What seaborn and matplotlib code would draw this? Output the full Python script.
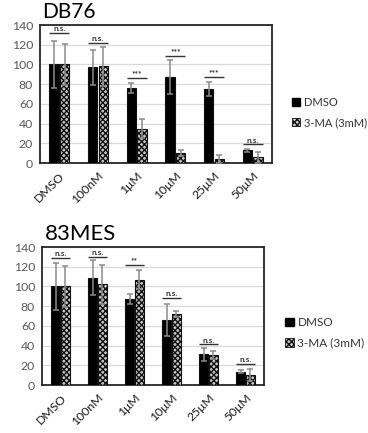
import matplotlib
matplotlib.use("Agg")
import matplotlib.pyplot as plt
import seaborn as sns
import pandas as pd
import numpy as np

sns.set_style("white")
plt.rcParams["font.family"] = ["Lato", "DejaVu Sans"]
plt.rcParams["hatch.linewidth"] = 1.0

doses = ["DMSO", "100nM", "1μM", "10μM", "25μM", "50μM"]
conditions = ["DMSO", "3-MA (3mM)"]

# DB76 viability (% of control)
db76_dmso = [100, 97, 76, 87, 75, 13]
db76_dmso_err = [24, 18, 5, 17, 7, 1.5]
db76_3ma = [100, 98, 35, 10, 4, 6]
db76_3ma_err = [21, 20, 10, 3, 4, 5.5]
db76_sig = ["n.s.", "n.s.", "***", "***", "***", "n.s."]
db76_sig_y = [132, 122, 86.5, 108.5, 87, 19]

# 83MES viability (% of control)
mes_dmso = [100, 109, 87, 66, 31, 13.5]
mes_dmso_err = [24, 18, 5, 16, 7, 1.5]
mes_3ma = [100, 102, 107, 72, 30, 10.5]
mes_3ma_err = [21, 20, 10, 3, 4, 6]
mes_sig = ["n.s.", "n.s.", "**", "n.s.", "n.s.", "n.s."]
mes_sig_y = [129, 130, 121.5, 88.5, 41.5, 21.5]

W, H = 368, 433
fig = plt.figure(figsize=(W / 100, H / 100), dpi=100)

HATCH_FACE = "#c8c8c8"
HATCH = "xxxxxx"


def panel(rect, title, title_xy, title_size, dmso, dmso_err, tma, tma_err,
          sig, sig_y, leg_xy, leg_size, tick_size):
    ax = fig.add_axes(rect)
    df = pd.DataFrame({
        "dose": doses * 2,
        "condition": [conditions[0]] * len(doses) + [conditions[1]] * len(doses),
        "value": list(dmso) + list(tma),
    })
    sns.barplot(data=df, x="dose", y="value", hue="condition", order=doses,
                hue_order=conditions, palette=["#000000", HATCH_FACE],
                width=0.54, gap=0.1, errorbar=None, edgecolor="#111111",
                linewidth=0.8, ax=ax, legend=False, zorder=3)
    for p in ax.containers[1]:
        p.set_hatch(HATCH)
    for cont, vals, errs in zip(ax.containers, [dmso, tma], [dmso_err, tma_err]):
        xs = [p.get_x() + p.get_width() / 2 for p in cont]
        ax.errorbar(xs, vals, yerr=errs, fmt="none", ecolor="#8c8c8c",
                    elinewidth=1.1, capsize=2.4, capthick=1.1, zorder=4)
    # significance brackets
    for i, (s, y) in enumerate(zip(sig, sig_y)):
        left = ax.containers[0][i]
        right = ax.containers[1][i]
        x0 = left.get_x()
        x1 = right.get_x() + right.get_width()
        ax.plot([x0, x1], [y, y], color="#333333", lw=1.0, zorder=5,
                solid_capstyle="butt")
        ax.text((x0 + x1) / 2, y + 0.6, s, ha="center", va="bottom",
                fontsize=6, fontweight="bold", color="#333333", zorder=5)
    ax.set_ylim(0, 140)
    ax.set_xlim(-0.5, len(doses) - 0.5)
    ax.set_yticks(np.arange(0, 141, 20))
    ax.yaxis.grid(True, color="#d9d9d9", lw=0.9, zorder=0)
    ax.set_axisbelow(True)
    ax.set_xlabel("")
    ax.set_ylabel("")
    ax.tick_params(axis="y", labelsize=tick_size, labelcolor="#595959",
                   length=0, pad=5)
    ax.tick_params(axis="x", labelsize=tick_size, labelcolor="#1a1a1a",
                   length=0, pad=5)
    ax.set_xticks(range(len(doses)))
    ax.set_xticklabels(doses, rotation=45, ha="right", rotation_mode="anchor")
    for sp in ax.spines.values():
        sp.set_visible(True)
        sp.set_color("#262626")
        sp.set_linewidth(1.3)
    fig.text(title_xy[0] / W, 1 - title_xy[1] / H, title, fontsize=title_size,
             ha="left", va="baseline", color="#000000")
    # legend
    handles = [plt.Rectangle((0, 0), 1, 1, facecolor="#000000", edgecolor="#000000"),
               plt.Rectangle((0, 0), 1, 1, facecolor=HATCH_FACE, edgecolor="#111111",
                             hatch=HATCH, lw=0.6)]
    fig.legend(handles, conditions, loc="upper left",
               bbox_to_anchor=(leg_xy[0] / W, 1 - leg_xy[1] / H),
               frameon=False, fontsize=leg_size, handlelength=0.75,
               handleheight=0.75, handletextpad=0.3, labelspacing=0.8,
               borderpad=0, borderaxespad=0, labelcolor="#333333")
    return ax


panel([40 / W, 1 - 163 / H, 232 / W, 138 / H], "DB76", (42, 18.5), 15,
      db76_dmso, db76_dmso_err, db76_3ma, db76_3ma_err, db76_sig, db76_sig_y,
      (292, 97), 8, 8.8)
panel([42 / W, 1 - 385 / H, 222 / W, 138 / H], "83MES", (45, 240), 16,
      mes_dmso, mes_dmso_err, mes_3ma, mes_3ma_err, mes_sig, mes_sig_y,
      (285, 317), 8.5, 8.8)

fig.savefig("out.png", dpi=100)
